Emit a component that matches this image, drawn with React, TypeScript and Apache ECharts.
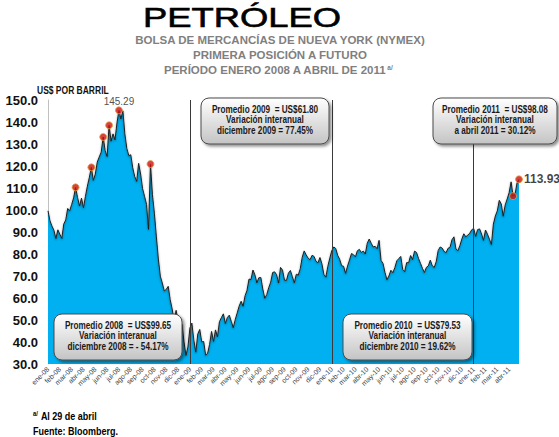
import React, { useEffect, useRef } from "react";
import * as echarts from "echarts";

// Monthly abbreviations used for the axis
const monthNames = ["ene", "feb", "mar", "abr", "may", "jun", "jul", "ago", "sep", "oct", "nov", "dic"];
const years = ["08", "09", "10", "11"];
const slotsPerMonth = 6;

// WTI first-position futures price (US$ per barrel), ~6 readings per month
const p2008 = [
  99.6, 95.1, 92.7, 90.8, 87.0, 91.0,
  89.0, 87.1, 93.6, 95.5, 100.7, 99.6,
  102.5, 105.5, 110.3, 105.7, 101.8, 105.4,
  101.0, 106.2, 110.9, 114.9, 119.4, 113.5,
  116.3, 121.8, 124.1, 126.3, 133.2, 127.0,
  124.3, 138.5, 131.3, 134.6, 131.9, 139.6,
  145.29, 141.4, 145.1, 134.6, 128.0, 124.7,
  125.1, 119.2, 115.2, 113.0, 121.2, 116.3,
  109.7, 106.2, 102.6, 91.2, 120.9, 106.9,
  98.5, 87.8, 77.7, 69.9, 66.8, 63.2,
  63.9, 65.3, 59.3, 55.0, 49.6, 54.4,
  49.3, 40.8, 48.0, 40.1, 33.9, 37.7,
];
const p2009 = [
  46.3, 48.6, 40.8, 35.4, 43.6, 45.7,
  40.1, 40.2, 34.0, 34.9, 38.9, 44.8,
  40.2, 45.5, 42.3, 49.2, 51.1, 52.8,
  48.4, 51.1, 52.2, 49.4, 46.5, 50.1,
  53.2, 56.3, 58.5, 56.3, 61.0, 63.5,
  68.6, 68.4, 72.7, 70.5, 66.9, 69.2,
  69.3, 64.1, 59.9, 61.5, 64.7, 67.2,
  71.6, 71.9, 70.6, 66.8, 73.9, 72.7,
  68.1, 68.0, 71.3, 72.5, 69.7, 66.9,
  70.8, 70.4, 73.3, 78.5, 81.4, 79.6,
  78.1, 77.4, 79.4, 78.9, 76.7, 76.0,
  78.4, 75.5, 70.7, 69.5, 74.4, 78.1,
];
const p2010 = [
  81.5, 83.2, 82.5, 79.4, 77.6, 74.7,
  74.4, 71.2, 74.5, 77.3, 80.2, 79.7,
  78.7, 81.5, 82.1, 80.7, 81.3, 80.0,
  84.9, 86.8, 84.9, 83.2, 83.5, 82.4,
  86.2, 77.1, 75.7, 71.6, 68.3, 70.0,
  72.6, 71.5, 73.8, 76.9, 77.9, 78.9,
  73.0, 72.0, 76.1, 76.0, 79.3, 77.5,
  81.3, 80.7, 78.0, 75.8, 73.5, 71.6,
  73.9, 74.6, 77.2, 74.6, 73.9, 76.5,
  81.6, 83.2, 82.7, 81.2, 80.6, 82.6,
  83.0, 86.5, 87.8, 82.3, 81.5, 83.8,
  86.8, 89.2, 87.8, 88.6, 89.4, 91.0,
];
const p2011 = [
  91.6, 88.0, 91.1, 91.4, 89.1, 86.2,
  90.9, 89.0, 86.7, 84.3, 93.6, 97.3,
  99.6, 104.4, 102.7, 97.2, 102.3, 105.0,
  107.9, 112.8, 106.3, 107.1, 112.3, 113.93,
];

// highlighted points (indices into the full series)
const markerIdx = [14, 22, 28, 31, 36, 52, 236, 239];
const peakIdx = 36;

const boxTexts = [
  "Promedio 2008  = US$99.65\nVariación interanual\ndiciembre 2008 = - 54.17%",
  "Promedio 2009  = US$61.80\nVariación interanual\ndiciembre 2009 = 77.45%",
  "Promedio 2010  = US$79.53\nVariación interanual\ndiciembre 2010 = 19.62%",
  "Promedio 2011  = US$98.08\nVariación interanual\na abril 2011 = 30.12%",
];

const FONT = "'Liberation Sans', Arial, Helvetica, sans-serif";

function buildOption() {
  const prices = [...p2008, ...p2009, ...p2010, ...p2011];
  const categories: string[] = [];
  for (let i = 0; i < prices.length; i++) {
    const m = Math.floor(i / slotsPerMonth);
    const mon = monthNames[m % 12];
    const yy = years[Math.floor(m / 12)];
    categories.push(`${mon}-${yy}|${i % slotsPerMonth}`);
  }
  const yearStarts = categories.filter((c, i) => i > 0 && c.startsWith("ene-") && c.endsWith("|0"));
  const lastIdx = prices.length - 1;

  const markers = markerIdx.map((i) => {
    const item: any = { value: [i, prices[i]] };
    if (i === peakIdx) {
      item.label = {
        show: true, position: "top", distance: 0, formatter: prices[i].toFixed(2),
        fontSize: 10, color: "#222", fontFamily: FONT,
      };
    } else if (i === lastIdx) {
      item.label = {
        show: true, position: "right", distance: 1, formatter: prices[i].toFixed(2),
        fontSize: 12, fontWeight: "bold", color: "#111", fontFamily: FONT,
      };
    }
    return item;
  });

  const boxes = [
    { x: 54, y: 314, w: 128, h: 46 },
    { x: 201, y: 98, w: 128, h: 46 },
    { x: 343, y: 314, w: 129, h: 46 },
    { x: 433, y: 98, w: 124, h: 46 },
  ];

  const boxGraphics = boxes.map((b, k) => ({
    type: "group",
    z: 100,
    children: [
      {
        type: "rect",
        z: 100,
        shape: { x: b.x, y: b.y, width: b.w, height: b.h, r: 8 },
        style: {
          fill: new echarts.graphic.LinearGradient(0, 0, 0, 1, [
            { offset: 0, color: "#ffffff" },
            { offset: 1, color: "#c4c4c4" },
          ]),
          stroke: "#4a4a4a",
          lineWidth: 1,
          shadowBlur: 3,
          shadowOffsetX: 2,
          shadowOffsetY: 2,
          shadowColor: "rgba(0,0,0,0.45)",
        },
      },
      {
        type: "text",
        z: 101,
        x: b.x + b.w / 2,
        y: b.y + b.h / 2 - 1,
        scaleX: 0.82,
        style: {
          text: boxTexts[k],
          fontSize: 10,
          fontWeight: "bold",
          fontFamily: FONT,
          lineHeight: 10.5,
          fill: "#1a1a1a",
          align: "center",
          verticalAlign: "middle",
          textAlign: "center",
          textVerticalAlign: "middle",
        },
      },
    ],
  }));

  return {
    animation: false,
    backgroundColor: "#ffffff",
    grid: { left: 48, right: 40, top: 100, bottom: 73 },
    xAxis: {
      type: "category",
      data: categories,
      boundaryGap: false,
      axisTick: { show: false },
      axisLine: { show: false },
      splitLine: { show: false },
      axisLabel: {
        interval: (i: number) => i % slotsPerMonth === 0,
        rotate: 45,
        fontSize: 7,
        color: "#404040",
        margin: 4,
        fontFamily: FONT,
        formatter: (v: string) => v.split("|")[0],
      },
    },
    yAxis: {
      type: "value",
      min: 30,
      max: 150,
      interval: 10,
      axisLine: { show: true, lineStyle: { color: "#c0c0c0", width: 1 } },
      axisTick: { show: false },
      splitLine: { show: false },
      axisLabel: {
        formatter: (v: number) => v.toFixed(1),
        fontSize: 13,
        fontWeight: "bold",
        color: "#111",
        margin: 10,
        fontFamily: FONT,
      },
    },
    series: [
      {
        type: "line",
        data: prices,
        symbol: "none",
        z: 2,
        lineStyle: {
          color: "#1e1e1e",
          width: 1,
          shadowColor: "rgba(0,0,0,0.45)",
          shadowBlur: 2,
          shadowOffsetY: 1,
        },
        areaStyle: { color: "#00B0F0", opacity: 1 },
        markLine: {
          silent: true,
          symbol: ["none", "none"],
          label: { show: false },
          lineStyle: { color: "#3a3a3a", width: 1, type: "solid" },
          data: yearStarts.map((c) => ({ xAxis: c })),
        },
      },
      {
        type: "scatter",
        data: markers,
        symbolSize: 7,
        z: 5,
        itemStyle: { color: "#D01010", borderColor: "#E0A040", borderWidth: 1 },
      },
    ],
    graphic: [
      {
        type: "text",
        x: 242,
        y: 18,
        scaleX: 1.3,
        style: {
          text: "PETRÓLEO",
          fontSize: 28,
          fontFamily: FONT,
          fill: "#000",
          stroke: "#000",
          lineWidth: 0.6,
          align: "center",
          verticalAlign: "middle",
          textAlign: "center",
          textVerticalAlign: "middle",
        },
      },
      ...[
        { t: "BOLSA DE MERCANCÍAS DE NUEVA YORK (NYMEX)", y: 40 },
        { t: "PRIMERA POSICIÓN A FUTURO", y: 55 },
      ].map((s) => ({
        type: "text",
        x: 280,
        y: s.y,
        style: {
          text: s.t,
          fontSize: 11.5,
          fontWeight: "bold",
          fontFamily: FONT,
          fill: "#7f7f7f",
          align: "center",
          verticalAlign: "middle",
          textAlign: "center",
          textVerticalAlign: "middle",
        },
      })),
      {
        type: "text",
        x: 278,
        y: 70,
        style: {
          text: "{m|PERÍODO ENERO 2008 A ABRIL DE 2011}{s|a/}",
          fontFamily: FONT,
          align: "center",
          verticalAlign: "middle",
          textAlign: "center",
          textVerticalAlign: "middle",
          rich: {
            m: { fontSize: 11.5, fontWeight: "bold", fill: "#7f7f7f", color: "#7f7f7f", fontFamily: FONT },
            s: { fontSize: 6.5, fontWeight: "bold", fill: "#7f7f7f", color: "#7f7f7f", fontFamily: FONT, padding: [0, 0, 6, 1] },
          },
        },
      },
      {
        type: "text",
        x: 37,
        y: 91,
        scaleX: 0.85,
        style: {
          text: "US$ POR BARRIL",
          fontSize: 10,
          fontWeight: "bold",
          fontFamily: FONT,
          fill: "#111",
          align: "left",
          verticalAlign: "middle",
          textAlign: "left",
          textVerticalAlign: "middle",
        },
      },
      ...boxGraphics,
      {
        type: "text",
        x: 33,
        y: 416,
        scaleX: 0.9,
        style: {
          text: "{s|a/} {m|Al 29 de abril}",
          fontFamily: FONT,
          align: "left",
          verticalAlign: "middle",
          textAlign: "left",
          textVerticalAlign: "middle",
          rich: {
            m: { fontSize: 10, fontWeight: "bold", fill: "#000", color: "#000", fontFamily: FONT },
            s: { fontSize: 6.5, fontWeight: "bold", fill: "#000", color: "#000", fontFamily: FONT, padding: [0, 0, 5, 0] },
          },
        },
      },
      {
        type: "text",
        x: 33,
        y: 431,
        scaleX: 0.9,
        style: {
          text: "Fuente: Bloomberg.",
          fontSize: 10,
          fontWeight: "bold",
          fontFamily: FONT,
          fill: "#000",
          align: "left",
          verticalAlign: "middle",
          textAlign: "left",
          textVerticalAlign: "middle",
        },
      },
    ],
  };
}

export default function App() {
  const ref = useRef<HTMLDivElement>(null);
  useEffect(() => {
    if (!ref.current) return;
    const chart = echarts.init(ref.current, undefined, { renderer: "svg" });
    chart.setOption(buildOption() as any);
    return () => chart.dispose();
  }, []);
  return (
    <div
      ref={ref}
      style={{ position: "fixed", left: 0, top: 0, width: 559, height: 437, background: "#fff" }}
    />
  );
}
